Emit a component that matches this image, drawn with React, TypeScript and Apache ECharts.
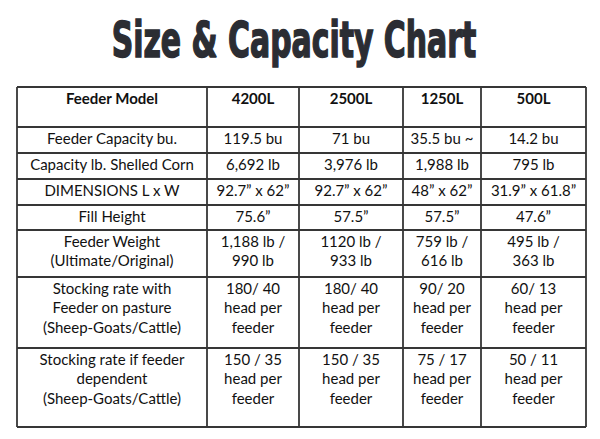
import React, { useEffect, useRef } from "react";
import * as echarts from "echarts";

const title = "Size & Capacity Chart";
const headers = ["Feeder Model", "4200L", "2500L", "1250L", "500L"];
const rowLabels = [
  "Feeder Capacity bu.",
  "Capacity lb. Shelled Corn",
  "DIMENSIONS L x W",
  "Fill Height",
  "Feeder Weight\n(Ultimate/Original)",
  "Stocking rate with\nFeeder on pasture\n(Sheep-Goats/Cattle)",
  "Stocking rate if feeder\ndependent\n(Sheep-Goats/Cattle)",
];
const col4200 = ["119.5 bu", "6,692 lb", "92.7\u201D x 62\u201D", "75.6\u201D", "1,188 lb /\n990 lb", "180/ 40\nhead per\nfeeder", "150 / 35\nhead per\nfeeder"];
const col2500 = ["71 bu", "3,976 lb", "92.7\u201D x 62\u201D", "57.5\u201D", "1120 lb /\n933 lb", "180/ 40\nhead per\nfeeder", "150 / 35\nhead per\nfeeder"];
const col1250 = ["35.5 bu ~", "1,988 lb", "48\u201D x 62\u201D", "57.5\u201D", "759 lb /\n616 lb", "90/ 20\nhead per\nfeeder", "75 / 17\nhead per\nfeeder"];
const col500 = ["14.2 bu", "795 lb", "31.9\u201D x 61.8\u201D", "47.6\u201D", "495 lb /\n363 lb", "60/ 13\nhead per\nfeeder", "50 / 11\nhead per\nfeeder"];

// layout (pixels)
const colEdges = [17, 207, 299, 403, 481, 586];
const rowEdges = [87, 127, 153, 179, 205, 230, 277, 348, 427];

export default function App() {
  const ref = useRef<HTMLDivElement>(null);
  useEffect(() => {
    if (!ref.current) return;
    const chart = echarts.init(ref.current, null, { renderer: "svg" });
    const columns = [rowLabels, col4200, col2500, col1250, col500];
    const elements: any[] = [];
    const lineStyle = { stroke: "#363636", lineWidth: 1.8 };
    rowEdges.forEach((y) => {
      elements.push({
        type: "line",
        shape: { x1: colEdges[0], y1: y, x2: colEdges[colEdges.length - 1], y2: y },
        style: lineStyle,
      });
    });
    colEdges.forEach((x) => {
      elements.push({
        type: "line",
        shape: { x1: x, y1: rowEdges[0], x2: x, y2: rowEdges[rowEdges.length - 1] },
        style: lineStyle,
      });
    });
    const font = "Lato, 'Open Sans', sans-serif";
    headers.forEach((h, c) => {
      elements.push({
        type: "text",
        x: (colEdges[c] + colEdges[c + 1]) / 2,
        y: rowEdges[0] + 1,
        style: {
          text: h,
          fill: "#111",
          font: `bold 15px ${font}`,
          align: "center",
          verticalAlign: "top",
          lineHeight: 20,
        },
      });
    });
    columns.forEach((col, c) => {
      col.forEach((txt, r) => {
        elements.push({
          type: "text",
          x: (colEdges[c] + colEdges[c + 1]) / 2,
          y: rowEdges[r + 1] + 1,
          style: {
            text: txt,
            fill: "#111",
            font: `15px ${font}`,
            align: "center",
            verticalAlign: "top",
            lineHeight: 19.5,
          },
        });
      });
    });
    elements.push({
      type: "text",
      x: 294,
      y: 40,
      scaleX: 0.665,
      originX: 0,
      style: {
        text: title,
        fill: "#2b2d33",
        stroke: "#2b2d33",
        lineWidth: 1.5,
        font: "bold 50px 'DejaVu Sans Condensed', 'DejaVu Sans', sans-serif",
        align: "center",
        verticalAlign: "middle",
      },
    });
    chart.setOption({ animation: false, graphic: elements });
    return () => chart.dispose();
  }, []);
  return (
    <div
      ref={ref}
      style={{ position: "absolute", left: 0, top: 0, width: 600, height: 439, background: "#fff" }}
    />
  );
}
